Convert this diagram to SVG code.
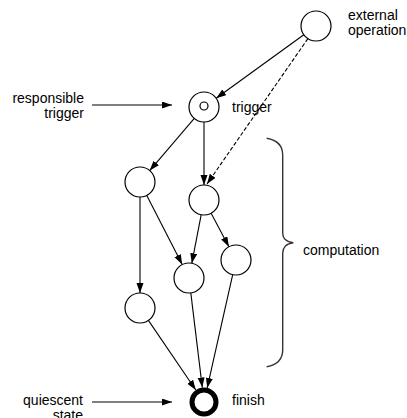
<svg xmlns="http://www.w3.org/2000/svg" width="407" height="418" viewBox="0 0 407 418">
<style>
.n{fill:#fff;stroke:#000;stroke-width:1.2}
.e{fill:none;stroke:#000;stroke-width:1.1}
.d{stroke-dasharray:4,2}
text{font-family:"Liberation Sans",Arial,sans-serif;font-size:14px;fill:#000}
.r{text-anchor:end}
</style>
<defs>
<marker id="ah" markerUnits="userSpaceOnUse" markerWidth="11" markerHeight="8" refX="10" refY="3.5" orient="auto">
<path d="M0,0 L10,3.5 L0,7 z" fill="#000"/>
</marker>
</defs>
<rect width="407" height="418" fill="#fff"/>
<g id="connectors">
<line class="e" x1="303.8" y1="34.8" x2="216.2" y2="98.2" marker-end="url(#ah)"/>
<line class="e d" x1="307.9" y1="38.6" x2="207" y2="184" marker-end="url(#ah)"/>
<line class="e" x1="194.3" y1="118.4" x2="149.7" y2="170.6" marker-end="url(#ah)"/>
<line class="e" x1="204" y1="122" x2="204" y2="185" marker-end="url(#ah)"/>
<line class="e" x1="146.8" y1="195.4" x2="182.2" y2="264.6" marker-end="url(#ah)"/>
<line class="e" x1="201.2" y1="214.7" x2="191.8" y2="263.3" marker-end="url(#ah)"/>
<line class="e" x1="211.1" y1="213.2" x2="228.9" y2="246.8" marker-end="url(#ah)"/>
<line class="e" x1="140" y1="197" x2="140" y2="293" marker-end="url(#ah)"/>
<line class="e" x1="148.4" y1="320.4" x2="195.8" y2="390" marker-end="url(#ah)"/>
<line class="e" x1="190.8" y1="292.9" x2="202.3" y2="387.6" marker-end="url(#ah)"/>
<line class="e" x1="232.7" y1="274.6" x2="207.2" y2="387.9" marker-end="url(#ah)"/>
<line class="e" x1="92" y1="105" x2="172" y2="105" marker-end="url(#ah)"/>
<line class="e" x1="92" y1="402" x2="172" y2="402" marker-end="url(#ah)"/>
</g>
<g id="external">
<circle class="n" cx="316" cy="26" r="15"/>
<text x="348" y="20">external</text>
<text x="348" y="35">operation</text>
</g>
<g id="trigger">
<circle class="n" cx="204" cy="107" r="15"/>
<circle class="n" cx="204" cy="106" r="4"/>
<text x="232" y="112">trigger</text>
</g>
<g id="responsible">
<text class="r" x="84" y="103">responsible</text>
<text class="r" x="84" y="118">trigger</text>
</g>
<g id="nodeA"><circle class="n" cx="140" cy="182" r="15"/></g>
<g id="nodeB"><circle class="n" cx="204" cy="200" r="15"/></g>
<g id="nodeC"><circle class="n" cx="189" cy="278" r="15"/></g>
<g id="nodeD"><circle class="n" cx="236" cy="260" r="15"/></g>
<g id="nodeE"><circle class="n" cx="140" cy="308" r="15"/></g>
<g id="finish">
<circle cx="204" cy="402" r="12" fill="#fff" stroke="#000" stroke-width="5"/>
<text x="232" y="405">finish</text>
</g>
<g id="quiescent">
<text class="r" x="83" y="405">quiescent</text>
<text class="r" x="83" y="420">state</text>
</g>
<g id="computation">
<path d="M266.7,138.3 C276,140 282.7,145 282.7,155 L282.7,233 C282.7,238 286,242 293.3,242.7 C286,243.5 282.7,248 282.7,253 L282.7,350 C282.7,360 276,365 266.7,366.7" fill="none" stroke="#333" stroke-width="1.4"/>
<text x="303" y="255">computation</text>
</g>
</svg>
